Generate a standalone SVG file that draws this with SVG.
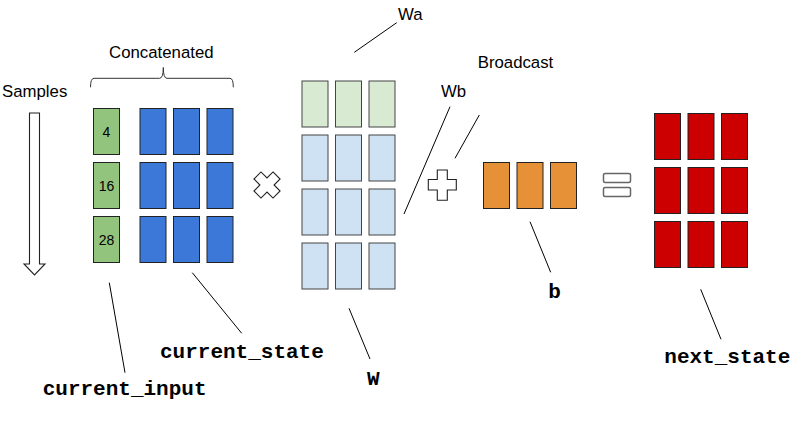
<svg xmlns="http://www.w3.org/2000/svg" width="800" height="437" viewBox="0 0 800 437">
<defs>
<style>
.lbl{font-family:"Liberation Sans",Arial,sans-serif;font-size:16.8px;fill:#000}
.num{font-family:"Liberation Sans",Arial,sans-serif;font-size:14px;fill:#000;text-anchor:middle}
.code{font-family:"Liberation Mono","Courier New",monospace;font-size:21px;font-weight:bold;fill:#000}
.cell{stroke:#222;stroke-width:1}
.lite{stroke:#444;stroke-width:1}
.g{fill:#93c47d}
.bl{fill:#3c78d8}
.lg{fill:#d9ead3}
.lb{fill:#cfe2f3}
.or{fill:#e69138}
.rd{fill:#cc0000}
.op{fill:#fff;stroke:#222;stroke-width:1.1}
.eq{fill:#fff;stroke:#666;stroke-width:1.5}
.conn line{stroke:#000;stroke-width:1}
</style>
</defs>
<rect width="800" height="437" fill="#fff"/>

<g id="samples">
<text class="lbl" x="2" y="97">Samples</text>
<polygon class="op" points="29.5,113 39.5,113 39.5,264 45,264 34.5,275 24,264 29.5,264"/>
</g>

<g id="concatenated">
<text class="lbl" x="161.3" y="58" text-anchor="middle">Concatenated</text>
<path d="M90.5,87.3 Q90.5,78.3 94,78.3 L159.5,78.3 Q163.3,78.3 163.3,67.5 Q163.3,78.3 167,78.3 L230,78.3 Q233.3,78.3 233.3,87.3" fill="none" stroke="#333" stroke-width="1"/>
</g>

<g id="current_input">
<rect class="cell g" x="93.5" y="108.5" width="26" height="46"/>
<rect class="cell g" x="93.5" y="162.5" width="26" height="46"/>
<rect class="cell g" x="93.5" y="216.5" width="26" height="46"/>
<text class="num" x="106.5" y="136.5">4</text>
<text class="num" x="106.5" y="190.7">16</text>
<text class="num" x="106.5" y="244.7">28</text>
<text class="code" x="42.7" y="395">current_input</text>
</g>

<g id="current_state">
<rect class="cell bl" x="140" y="108.5" width="26" height="46"/>
<rect class="cell bl" x="173.5" y="108.5" width="26" height="46"/>
<rect class="cell bl" x="207" y="108.5" width="26" height="46"/>
<rect class="cell bl" x="140" y="162.5" width="26" height="46"/>
<rect class="cell bl" x="173.5" y="162.5" width="26" height="46"/>
<rect class="cell bl" x="207" y="162.5" width="26" height="46"/>
<rect class="cell bl" x="140" y="216.5" width="26" height="46"/>
<rect class="cell bl" x="173.5" y="216.5" width="26" height="46"/>
<rect class="cell bl" x="207" y="216.5" width="26" height="46"/>
<text class="code" x="160" y="358">current_state</text>
</g>

<g id="times">
<path class="op" transform="translate(267,185) rotate(45)" d="M-5,-13.5 H5 V-5 H13.5 V5 H5 V13.5 H-5 V5 H-13.5 V-5 H-5 Z"/>
</g>

<g id="W">
<rect class="lite lg" x="302" y="81" width="26" height="46"/>
<rect class="lite lg" x="335.5" y="81" width="26" height="46"/>
<rect class="lite lg" x="369" y="81" width="26" height="46"/>
<rect class="lite lb" x="302" y="135" width="26" height="46"/>
<rect class="lite lb" x="335.5" y="135" width="26" height="46"/>
<rect class="lite lb" x="369" y="135" width="26" height="46"/>
<rect class="lite lb" x="302" y="189" width="26" height="46"/>
<rect class="lite lb" x="335.5" y="189" width="26" height="46"/>
<rect class="lite lb" x="369" y="189" width="26" height="46"/>
<rect class="lite lb" x="302" y="243" width="26" height="46"/>
<rect class="lite lb" x="335.5" y="243" width="26" height="46"/>
<rect class="lite lb" x="369" y="243" width="26" height="46"/>
<text class="lbl" x="398" y="20">Wa</text>
<text class="lbl" x="441" y="97">Wb</text>
<text class="code" x="367" y="385">W</text>
</g>

<g id="plus">
<path class="op" d="M437.3,170 H447.3 V179.5 H456.3 V190 H447.3 V200.3 H437.3 V190 H428.3 V179.5 H437.3 Z"/>
<text class="lbl" x="477.7" y="68">Broadcast</text>
</g>

<g id="b">
<rect class="cell or" x="483.5" y="162.5" width="26" height="46"/>
<rect class="cell or" x="517" y="162.5" width="26" height="46"/>
<rect class="cell or" x="550.5" y="162.5" width="26" height="46"/>
<text class="code" x="548.3" y="298">b</text>
</g>

<g id="equals">
<rect class="eq" x="603.5" y="173.5" width="27" height="9" rx="1.5"/>
<rect class="eq" x="603.5" y="187.5" width="27" height="9" rx="1.5"/>
</g>

<g id="next_state">
<rect class="cell rd" x="654.5" y="113.5" width="26" height="46"/>
<rect class="cell rd" x="688" y="113.5" width="26" height="46"/>
<rect class="cell rd" x="721.5" y="113.5" width="26" height="46"/>
<rect class="cell rd" x="654.5" y="167.5" width="26" height="46"/>
<rect class="cell rd" x="688" y="167.5" width="26" height="46"/>
<rect class="cell rd" x="721.5" y="167.5" width="26" height="46"/>
<rect class="cell rd" x="654.5" y="221.5" width="26" height="46"/>
<rect class="cell rd" x="688" y="221.5" width="26" height="46"/>
<rect class="cell rd" x="721.5" y="221.5" width="26" height="46"/>
<text class="code" x="664.3" y="363">next_state</text>
</g>

<g id="connectors" class="conn">
<line x1="396.7" y1="22.7" x2="354.3" y2="52.3"/>
<line x1="450" y1="106.7" x2="404" y2="214"/>
<line x1="479.3" y1="115" x2="455" y2="158.3"/>
<line x1="109.3" y1="282.7" x2="125" y2="372.7"/>
<line x1="192.3" y1="272.7" x2="241.7" y2="333.3"/>
<line x1="349" y1="308.3" x2="370" y2="359"/>
<line x1="530" y1="221.7" x2="550.7" y2="272.3"/>
<line x1="700.7" y1="289.3" x2="721" y2="339.3"/>
</g>
</svg>
